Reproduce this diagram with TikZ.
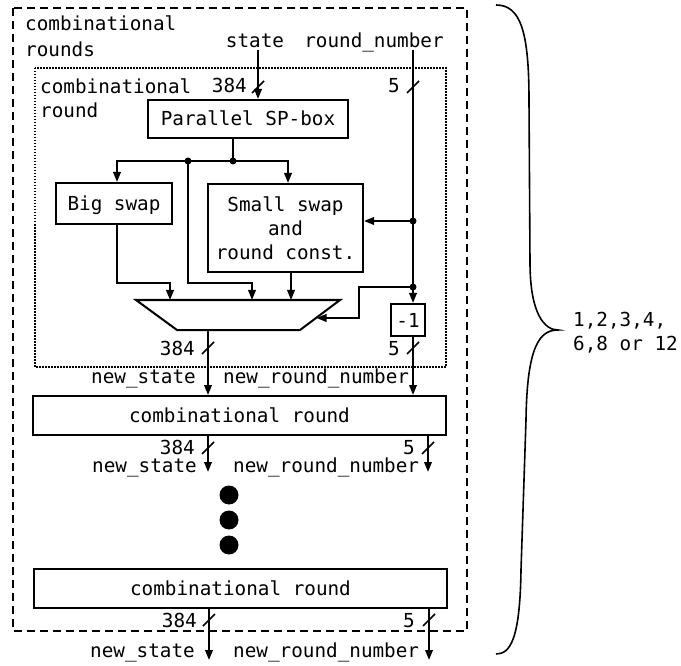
\documentclass[tikz,border=0pt]{standalone}
\usepackage{fontspec}
\setmainfont{DejaVu Sans Mono}
\usetikzlibrary{arrows.meta,calc}
\begin{document}
\begin{tikzpicture}[x=1pt,y=-1pt,
  every node/.style={font=\fontsize{19.3}{24}\selectfont, inner sep=0pt},
  blkbase/.style={draw, line width=2pt, align=center},
  blk/.style={blkbase, text height=14pt, text depth=0pt},
  wire/.style={line width=2pt},
  arr/.style={line width=2pt, -{Triangle[length=10pt,width=7.5pt]}},
  jdot/.style={circle, fill, minimum size=7pt, inner sep=0pt},
  bigdot/.style={circle, fill, minimum size=19pt, inner sep=0pt},
  bus/.pic={\draw[line width=1.6pt] (-6,6) -- (6,-6);},
  lbl/.style={anchor=base east},
  lblw/.style={anchor=base west}
]
\useasboundingbox (0,0) rectangle (681,666);

% outer and inner frames
\draw[line width=2pt, dash pattern=on 8pt off 5pt] (13,8) rectangle (467,631);
\draw[line width=1.5pt, dash pattern=on 1.5pt off 1.5pt] (35,68) rectangle (446,367);
\node[anchor=north west, align=left, font=\fontsize{19.3}{26}\selectfont] (lrounds) at (25,15.5) {combinational\\rounds};
\node[anchor=north west, align=left, font=\fontsize{19.3}{24}\selectfont] (lround) at (40,78.5) {combinational\\round};

% inputs
\node[anchor=base] (state) at (255,48) {state};
\node[anchor=base] (rn) at (374,48) {round\_number};
\coordinate (stIn) at (258,50);
\coordinate (rnIn) at (413,50);

% blocks
\node[blk, minimum width=200pt, minimum height=38pt] (sp) at (248,119) {Parallel SP-box};
\node[blk, minimum width=116pt, minimum height=41pt] (big) at (114,203.5) {Big swap};
\node[blkbase, minimum width=155pt, minimum height=88pt] (small) at (285.5,228) {Small swap\\and\\round const.};
\node[blk, minimum width=34pt, minimum height=32pt] (minus) at (408,320) {-1};
\node[blk, minimum width=413pt, minimum height=39pt] (cr1) at (239.5,415.5) {combinational round};
\node[blk, minimum width=413pt, minimum height=39pt] (cr2) at (240.5,588.5) {combinational round};

% mux
\coordinate (muxTL) at (136,300);
\coordinate (muxTR) at (340,300);
\coordinate (muxBR) at (300,330);
\coordinate (muxBL) at (177,330);
\draw[wire, line join=miter] (muxTL) -- (muxTR) -- (muxBR) -- (muxBL) -- cycle;
\coordinate (muxOut) at (208,330);
\coordinate (muxR) at (316.5,318);

% junctions
\coordinate (j1) at (233,161);
\coordinate (j0) at (188,161);
\coordinate (j2) at (413,221);
\coordinate (j3) at (413,287);
\coordinate (xbig) at (117,0);
\coordinate (xsmall) at (288,0);
\coordinate (xsout) at (291,0);

% state into SP-box
\draw[arr] (stIn) -- (stIn |- sp.north);
\pic at (258,87) {bus};
\node[lbl] (n384a) at (247,93) {384};

% round number
\draw[wire] (rnIn) -- (j3);
\pic at (413,87) {bus};
\node[lbl] (n5a) at (400,93) {5};
\draw[arr] (j2) -- (j2 -| small.east);
\draw[arr] (j3) -- (rnIn |- minus.north);
\draw[arr] (j3) -- (359,287) -- (359,318) -- (muxR);

% SP-box fan-out
\draw[wire] (j1 |- sp.south) -- (j1);
\draw[arr] (j1) -- (xbig |- j1) -- (xbig |- big.north);
\draw[arr] (j1) -- (xsmall |- j1) -- (xsmall |- small.north);
\draw[arr] (j0) -- (188,283) -- (252,283) -- (252,300);
\node[jdot] at (j0) {};
\node[jdot] at (j1) {};
\node[jdot] at (j2) {};
\node[jdot] at (j3) {};

% into mux
\draw[arr] (xbig |- big.south) -- (117,283) -- (170,283) -- (170,300);
\draw[arr] (xsout |- small.south) -- (xsout |- muxTL);

% outputs of first round
\draw[arr] (muxOut) -- (muxOut |- cr1.north);
\draw[arr] (rnIn |- minus.south) -- (rnIn |- cr1.north);
\pic at (208,348) {bus};
\pic at (413,348) {bus};
\node[lbl] (n384b) at (195,355) {384};
\node[lbl] (n5b) at (400,355) {5};
\node[lbl] (ns1) at (196,383) {new\_state};
\node[lblw] (nr1) at (223,383) {new\_round\_number};

% outputs of second box
\coordinate (o1s) at (208,472);
\coordinate (o1r) at (428,472);
\draw[arr] (o1s |- cr1.south) -- (o1s);
\draw[arr] (o1r |- cr1.south) -- (o1r);
\pic at (208,448) {bus};
\pic at (428,448) {bus};
\node[lbl] (n384c) at (195,454) {384};
\node[lbl] (n5c) at (415,454) {5};
\node[lbl] (ns2) at (197,472) {new\_state};
\node[lblw] (nr2) at (233,472) {new\_round\_number};

% ellipsis
\node[bigdot] (d1) at (229,495) {};
\node[bigdot] (d2) at (229,520) {};
\node[bigdot] (d3) at (229,545) {};

% outputs of last box
\coordinate (o2s) at (209,660);
\coordinate (o2r) at (429,660);
\draw[arr] (o2s |- cr2.south) -- (o2s);
\draw[arr] (o2r |- cr2.south) -- (o2r);
\pic at (209,620) {bus};
\pic at (429,620) {bus};
\node[lbl] (n384d) at (197,627) {384};
\node[lbl] (n5d) at (415,627) {5};
\node[lbl] (ns3) at (195,657) {new\_state};
\node[lblw] (nr3) at (233,657) {new\_round\_number};

% brace
\draw[line width=1.6pt] (496,5) .. controls (520,5) and (529,30) .. (529,100)
  -- (530,262) .. controls (530,315) and (545,330) .. (558,330)
  .. controls (540,330) and (527,345) .. (526,420)
  -- (521,570) .. controls (520,640) and (510,654) .. (496,654);
\node[anchor=north west, align=left] (count) at (573,312) {1,2,3,4,\\6,8 or 12};
\end{tikzpicture}
\end{document}
